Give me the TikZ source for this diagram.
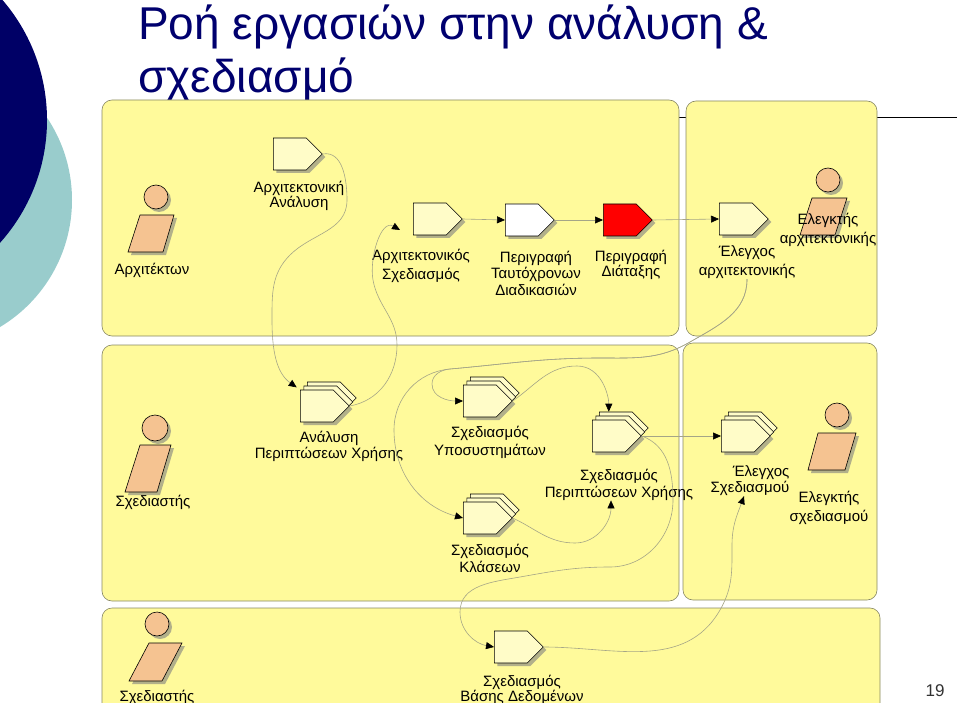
\documentclass[tikz,border=0pt]{standalone}
\usepackage{fontspec}
\setmainfont{Liberation Sans}
\usetikzlibrary{shapes.symbols, shadows, arrows.meta, positioning}

\definecolor{navyblob}{RGB}{0,0,102}
\definecolor{tealblob}{RGB}{153,204,204}
\definecolor{titleblue}{RGB}{0,0,110}
\definecolor{lanefill}{RGB}{255,250,155}
\definecolor{lanedraw}{RGB}{135,135,100}
\definecolor{taskfill}{RGB}{255,252,200}
\definecolor{actorfill}{RGB}{245,195,145}
\definecolor{connline}{RGB}{165,165,135}
\definecolor{pagegray}{RGB}{50,50,50}

\tikzset{
	heading/.style = {anchor = base west, font = \fontsize{46}{50}\selectfont, text = titleblue, inner sep = 0pt},
	lane/.style = {draw = lanedraw, line width = 0.6pt, fill = lanefill, rounded corners = 10pt},
	task/.style = {signal, signal to = east, signal pointer angle = 90, draw = black, line width = 0.6pt, fill = taskfill, minimum width = 49pt, minimum height = 32pt, inner sep = 0pt, anchor = west, drop shadow = {shadow xshift = 3pt, shadow yshift = -3pt, fill = black!50, opacity = .6}},
	multitask/.style = {task, double copy shadow = {shadow xshift = 3.5pt, shadow yshift = 4pt, fill = taskfill, draw = black, line width = 0.6pt}},
	actor/.style = {draw = black, line width = 0.6pt, fill = actorfill, drop shadow = {shadow xshift = 3pt, shadow yshift = -3pt, fill = black!50, opacity = .6}},
	txt/.style = {font = \fontsize{15}{17}\selectfont, align = center, inner sep = 0pt, text = black},
	conn/.style = {draw = connline, line width = 0.6pt, -{Triangle[length = 8pt, width = 7pt, color = black]}}
}

\begin{document}
\begin{tikzpicture}[x = 1pt, y = 1pt]

	\useasboundingbox (0, 0) rectangle (960, -703);

	%%% FUNDO %%%

	\fill[tealblob] (-76, -200) circle (148);
	\fill[navyblob] (-137, -120) circle (184);

	\node[heading] (title1) at (138, -40) {Ροή εργασιών στην ανάλυση \&};
	\node[heading] (title2) at (138, -93) {σχεδιασμό};

	\draw[black, line width = 1pt] (600, -118) -- (957, -118);

	%%% ΛΩΡΙΔΕΣ %%%

	\draw[lane] (102, -100) rectangle (679, -336);
	\draw[lane] (686, -101) rectangle (877, -336);
	\draw[lane] (102, -345) rectangle (679, -601);
	\draw[lane] (683, -343) rectangle (877, -600);
	\draw[lane] (102, -608) rectangle (880, -740);

	%%% ΡΟΛΟΙ %%%

	\draw[actor] (156, -197) circle (12);
	\draw[actor] (140, -215) -- (174, -215) -- (163, -252) -- (128, -252) -- cycle;

	\draw[actor] (828, -180) circle (12);
	\draw[actor] (812, -198) -- (847, -198) -- (835, -235) -- (800, -235) -- cycle;

	\draw[actor] (155, -428) circle (13);
	\draw[actor] (140, -445) -- (171, -445) -- (157, -492) -- (125, -492) -- cycle;

	\draw[actor] (837, -415) circle (12);
	\draw[actor] (818, -433) -- (856, -433) -- (845, -470) -- (808, -470) -- cycle;

	\draw[actor] (157, -624) circle (12);
	\draw[actor] (149, -643) -- (182, -643) -- (162, -681) -- (129, -681) -- cycle;

	%%% ΕΡΓΑΣΙΕΣ %%%

	\node[task] (t1) at (273, -154) {};
	\node[task] (t2) at (413, -219) {};
	\node[task, fill = white] (t3) at (505, -220) {};
	\node[task, fill = red] (t4) at (603, -220) {};
	\node[task] (t5) at (719, -219) {};

	\node[multitask] (m1) at (300, -406) {};
	\node[multitask] (m2) at (463, -401) {};
	\node[multitask] (m3) at (463, -518) {};
	\node[multitask] (m4) at (592, -436) {};
	\node[multitask] (m5) at (721, -436) {};

	\node[task] (b1) at (494, -647) {};

	%%% ΚΕΙΜΕΝΑ %%%

	\node[txt] (a1txt) at (152, -270) {Αρχιτέκτων};
	\node[txt, font = \fontsize{15}{19}\selectfont] (a2txt) at (828, -229.5) {Ελεγκτής\\αρχιτεκτονικής};
	\node[txt] (a3txt) at (153, -502) {Σχεδιαστής};
	\node[txt, font = \fontsize{15}{19}\selectfont] (a4txt) at (829, -507.5) {Ελεγκτής\\σχεδιασμού};
	\node[txt] (a5txt) at (157, -697) {Σχεδιαστής};

	\node[txt, font = \fontsize{15}{15}\selectfont] (t1txt) at (299, -196) {Αρχιτεκτονική\\Ανάλυση};
	\node[txt, font = \fontsize{15}{19}\selectfont] (t2txt) at (421, -265.5) {Αρχιτεκτονικός\\Σχεδιασμός};
	\node[txt, font = \fontsize{15}{16.5}\selectfont] (t3txt) at (536, -273) {Περιγραφή\\Ταυτόχρονων\\Διαδικασιών};
	\node[txt, font = \fontsize{15}{15}\selectfont] (t4txt) at (631, -264.5) {Περιγραφή\\Διάταξης};
	\node[txt, font = \fontsize{15}{19}\selectfont] (t5txt) at (747, -262.5) {Έλεγχος\\αρχιτεκτονικής};

	\node[txt, font = \fontsize{15}{16}\selectfont] (m1txt) at (329, -446) {Ανάλυση\\Περιπτώσεων Χρήσης};
	\node[txt, font = \fontsize{15}{18}\selectfont] (m2txt) at (490, -442) {Σχεδιασμός\\Υποσυστημάτων};
	\node[txt] (m3txt) at (490, -558.5) {Σχεδιασμός\\Κλάσεων};
	\node[txt] (m4txt) at (619, -484.5) {Σχεδιασμός\\Περιπτώσεων Χρήσης};
	\node[txt, align = right, font = \fontsize{15}{16}\selectfont] (m5txt) at (750, -481) {Έλεγχος\\Σχεδιασμού};

	\node[txt, font = \fontsize{15}{15}\selectfont] (b1txt) at (522, -689.5) {Σχεδιασμός\\Βάσης Δεδομένων};

	\node[txt, font = \fontsize{17}{17}\selectfont, text = pagegray] (page) at (935, -691) {19};

	%%% ΡΟΕΣ %%%

	\coordinate[below left = 11pt and 13pt of t2.west] (t2in);

	\draw[conn, shorten > = 4pt] (t1.east) to[out = 10, in = 90] (347, -200) to[out = -90, in = 45] (290, -255) to[out = -135, in = 90] (272, -320) to[out = -90, in = 145] (m1.north west);
	\draw[conn] (m1.east) to[out = 10, in = -90] (397, -345) to[out = 90, in = -80] (373, -280) to[out = 100, in = 150] (t2in);

	\draw[conn] (t2.east) -- (t3.west);
	\draw[conn] (t3.east) -- (t4.west);
	\draw[conn] (t4.east) -- (t5.west);

	\draw[conn] (t5txt.south) to[out = -90, in = 30] (690, -342) to[out = -150, in = 0] (600, -358) to[out = 180, in = 5] (450, -369) to[out = 185, in = 90] (432, -384) to[out = -90, in = 180] (m2.west);
	\draw[conn] (t5txt.south) to[out = -90, in = 30] (690, -342) to[out = -150, in = 0] (600, -358) to[out = 180, in = 5] (450, -369) to[out = 185, in = 90] (394, -430) to[out = -90, in = 165] (m3.west);

	\draw[conn, shorten > = 8pt] (m2.east) to[out = 35, in = 180] (577, -366) to[out = 0, in = 90] (m4.north);
	\draw[conn] (m3.east) to[out = -25, in = 180] (575, -543) to[out = 0, in = -90] ([xshift = -8pt]m4txt.south);

	\draw[conn] (m4.east) -- (m5.west);
	\draw[conn] (m4.east) to[out = -20, in = 90] (673, -500) to[out = -90, in = 0] (610, -567) to[out = 180, in = 10] (520, -577) to[out = 190, in = 90] (460, -612) to[out = -90, in = 170] (b1.west);
	\draw[conn] (b1.east) to[out = 0, in = -120] (720, -610) to[out = 60, in = -90] (732, -545) to[out = 90, in = -110] ([xshift = -6pt]m5txt.south);

\end{tikzpicture}
\end{document}
